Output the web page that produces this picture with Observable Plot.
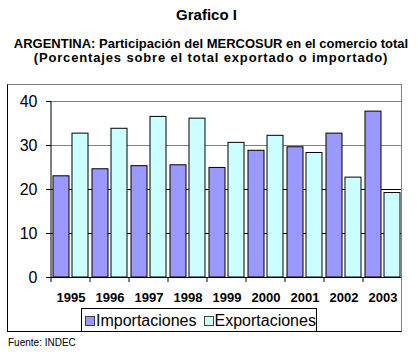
<!DOCTYPE html>
<html><head><meta charset="utf-8">
<script src="https://cdn.jsdelivr.net/npm/d3@7"></script>
<script src="https://cdn.jsdelivr.net/npm/@observablehq/plot@0.6"></script>
<style>
body{margin:0;background:#fff;font-family:"Liberation Sans",Arial,sans-serif;color:#000;}
#wrap{position:relative;width:418px;height:358px;overflow:hidden;background:#fff;}
.t{position:absolute;text-align:center;white-space:nowrap;}
#title{left:0;width:413px;top:7px;font-size:15px;line-height:15px;font-weight:bold;}
#sub1{left:0;width:422px;top:37px;font-size:13px;line-height:13px;font-weight:bold;}
#sub2{left:0;width:422px;top:51px;font-size:13px;line-height:13px;font-weight:bold;letter-spacing:0.85px;}
#source{position:absolute;left:8px;top:338px;font-size:10px;line-height:10px;white-space:nowrap;}
#frame{position:absolute;left:7px;top:84px;width:393px;height:246px;border-left:1px solid #000;border-top:1px solid #808080;border-right:1px solid #808080;border-bottom:1px solid #000;overflow:hidden;}
#plot{position:absolute;left:-8px;top:-85px;width:418px;height:358px;}
#plot svg{max-width:none !important;width:418px;height:358px;}
#legend{position:absolute;left:81px;top:308px;height:23px;border:1px solid #000;border-bottom:none;background:#fff;display:flex;padding-top:4px;box-sizing:border-box;width:236px;}
.item{display:flex;align-items:flex-start;}
.sw{width:8px;height:8px;border:1px solid #404040;margin-top:3px;margin-right:1px;}
.lab{font-size:16px;line-height:16px;}
</style>
</head><body>
<div id="wrap">
  <div class="t" id="title">Grafico I</div>
  <div class="t" id="sub1">ARGENTINA: Participación del MERCOSUR en el comercio total</div>
  <div class="t" id="sub2">(Porcentajes sobre el total exportado o importado)</div>
  <div id="frame"><div id="plot"></div></div>
  <div id="legend"></div>
  <div id="source">Fuente: INDEC</div>
</div>
<script>
const years = ["1995","1996","1997","1998","1999","2000","2001","2002","2003"];
const series = ["Importaciones","Exportaciones"];
const importaciones = [23.0,24.6,25.3,25.5,24.9,28.8,29.6,32.7,37.7];
const exportaciones = [32.7,33.8,36.5,36.1,30.6,32.2,28.3,22.7,19.2];
const colors = ["#9999FF","#CCFFFF"];
const yTicks = [0,10,20,30,40];

const data = years.flatMap((y,i)=>[
  {year:y, serie:series[0], value:importaciones[i]},
  {year:y, serie:series[1], value:exportaciones[i]}
]);

const chart = Plot.plot({
  width:418, height:358,
  marginLeft:50, marginRight:16, marginTop:101, marginBottom:81,
  style:{fontFamily:"Liberation Sans, Arial, sans-serif", fontSize:"16px", background:"transparent", color:"#000", overflow:"visible"},
  facet:{data, x:"year"},
  fx:{domain:years, padding:0, label:null, tickSize:0, tickPadding:15},
  x:{domain:series, paddingInner:0.15, paddingOuter:0.05, axis:null},
  y:{domain:[0,40], ticks:yTicks, tickSize:5, tickPadding:9, label:null},
  color:{domain:series, range:colors},
  marks:[
    Plot.ruleY(yTicks.filter(d=>d>0), {stroke:d=> d>20 ? "#808080" : "#000", strokeWidth:1}),
    Plot.barY(data, {x:"serie", y:"value", fill:"serie", stroke:"#000", strokeWidth:1}),
    Plot.ruleY([0], {stroke:"#000"})
  ]
});

const svg = d3.select(chart);
svg.selectAll('[aria-label^="fx-axis"] text').style("font-size","13px").style("font-weight","bold");
svg.selectAll('[aria-label^="y-axis"] text').style("font-size","16px");

const ys = chart.scale("y");
const fxs = chart.scale("fx");
const y0 = ys.apply(0), yTop = ys.apply(40);
const bounds = years.map(y=>fxs.apply(y)).concat([fxs.apply(years[years.length-1]) + fxs.bandwidth]);
const g = svg.append("g").attr("stroke","#000").attr("stroke-width",1);
g.append("line").attr("x1",bounds[0]).attr("x2",bounds[0]).attr("y1",yTop).attr("y2",y0);
g.selectAll("line.b").data(bounds).join("line").attr("class","b")
  .attr("x1",d=>d).attr("x2",d=>d).attr("y1",y0).attr("y2",y0+5);

document.getElementById("plot").appendChild(chart);

const legend = d3.select("#legend");
series.forEach((s,i)=>{
  const it = legend.append("div").attr("class","item").style("margin-left", i===0 ? "3px" : "7px");
  it.append("div").attr("class","sw").style("background", colors[i]);
  it.append("span").attr("class","lab").text(s);
});
</script>
</body></html>
